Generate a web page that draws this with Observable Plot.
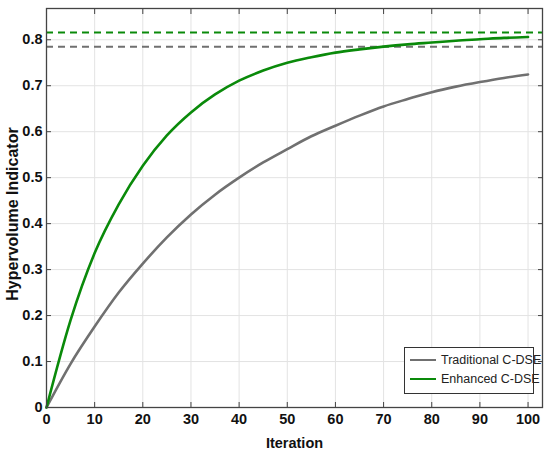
<!DOCTYPE html>
<html>
<head>
<meta charset="utf-8">
<script src="https://cdn.jsdelivr.net/npm/d3@7"></script>
<script src="https://cdn.jsdelivr.net/npm/@observablehq/plot@0.6"></script>
<style>
  html, body { margin: 0; padding: 0; background: #fff; }
  #wrap { position: relative; width: 550px; height: 454px; font-family: "Liberation Sans", Arial, sans-serif; }
  #legend { position: absolute; left: 404px; top: 347px; width: 130px; height: 47px; border: 1px solid #333; background: #fff; box-sizing: border-box; font-size: 12.5px; color: #222; }
  .item { position: absolute; left: 5px; display: flex; align-items: center; white-space: nowrap; }
  .sw { width: 26px; height: 0; border-top: 2.5px solid; margin-right: 5px; }
</style>
</head>
<body>
<div id="wrap"><div id="chart"></div><div id="legend"></div></div>
<script>
const iterations = [0, 5, 10, 15, 20, 25, 30, 35, 40, 45, 50, 55, 60, 65, 70, 75, 80, 85, 90, 95, 100];
const traditional = [0, 0.095, 0.176, 0.250, 0.313, 0.370, 0.420, 0.463, 0.500, 0.533, 0.562, 0.590, 0.613, 0.635, 0.655, 0.671, 0.686, 0.698, 0.708, 0.717, 0.7245];
const enhanced = [0, 0.190, 0.336, 0.442, 0.526, 0.592, 0.642, 0.681, 0.711, 0.733, 0.750, 0.762, 0.772, 0.779, 0.785, 0.790, 0.794, 0.798, 0.801, 0.804, 0.806];
const seriesNames = ["Traditional C-DSE", "Enhanced C-DSE"];
const seriesColors = ["#707070", "#0a8a0a"];
const refLevels = [0.785, 0.816];
const xTicks = [0, 10, 20, 30, 40, 50, 60, 70, 80, 90, 100];
const yTicks = [0, 0.1, 0.2, 0.3, 0.4, 0.5, 0.6, 0.7, 0.8];

const rows = [];
iterations.forEach((it, i) => {
  rows.push({iter: it, hv: traditional[i], series: seriesNames[0]});
  rows.push({iter: it, hv: enhanced[i], series: seriesNames[1]});
});
const refs = refLevels.map((v, i) => ({v, series: seriesNames[i]}));

const yFmt = d => d === 0 ? "0" : d3.format(".1f")(d);
const font = "'Liberation Sans', Arial, sans-serif";

const chart = Plot.plot({
  width: 550,
  height: 454,
  marginLeft: 46,
  marginRight: 8,
  marginTop: 8,
  marginBottom: 47,
  style: {fontFamily: font, background: "#fff"},
  x: {domain: [0, 103]},
  y: {domain: [0, 0.868]},
  color: {domain: seriesNames, range: seriesColors},
  marks: [
    Plot.gridX(xTicks, {stroke: "#e3e3e3", strokeOpacity: 1}),
    Plot.gridY(yTicks, {stroke: "#e3e3e3", strokeOpacity: 1}),
    Plot.ruleY(refs, {y: "v", stroke: "series", strokeWidth: 2, strokeDasharray: "7,5"}),
    Plot.line(rows, {x: "iter", y: "hv", z: "series", stroke: "series", strokeWidth: 2.6, curve: "monotone-x"}),
    Plot.frame({stroke: "#444", strokeWidth: 1.3}),
    Plot.axisX(xTicks, {anchor: "bottom", tickSize: -5, tickPadding: 11, fontSize: 14.5, fontWeight: "bold", fill: "#111", stroke: "#444", label: "Iteration", labelAnchor: "center", labelArrow: "none", labelOffset: 40}),
    Plot.axisX(xTicks, {anchor: "top", tickSize: -5, text: null, label: null, stroke: "#444"}),
    Plot.axisY(yTicks, {anchor: "left", tickSize: -5, tickPadding: 9, fontSize: 14.5, fontWeight: "bold", fill: "#111", stroke: "#444", tickFormat: yFmt, label: "Hypervolume Indicator", labelAnchor: "center", labelArrow: "none", labelOffset: 40}),
    Plot.axisY(yTicks, {anchor: "right", tickSize: -5, text: null, label: null, stroke: "#444"})
  ]
});
chart.querySelectorAll("[aria-label='x-axis label'] text").forEach(t => {
  t.style.fontSize = "14.5px";
  t.style.fontWeight = "bold";
  t.setAttribute("fill", "#111");
});
chart.querySelectorAll("[aria-label='y-axis label'] text").forEach(t => {
  t.style.fontSize = "16px";
  t.style.fontWeight = "bold";
  t.setAttribute("fill", "#111");
  const tr = t.getAttribute("transform");
  if (tr && tr.includes("rotate")) t.setAttribute("transform", tr + " translate(-6,0)");
});
document.getElementById("chart").appendChild(chart);

const legend = document.getElementById("legend");
seriesNames.forEach((name, i) => {
  const item = document.createElement("div");
  item.className = "item";
  item.style.top = (5 + i * 19) + "px";
  const sw = document.createElement("span");
  sw.className = "sw";
  sw.style.borderColor = seriesColors[i];
  const lab = document.createElement("span");
  lab.textContent = name;
  item.appendChild(sw);
  item.appendChild(lab);
  legend.appendChild(item);
});
</script>
</body>
</html>
